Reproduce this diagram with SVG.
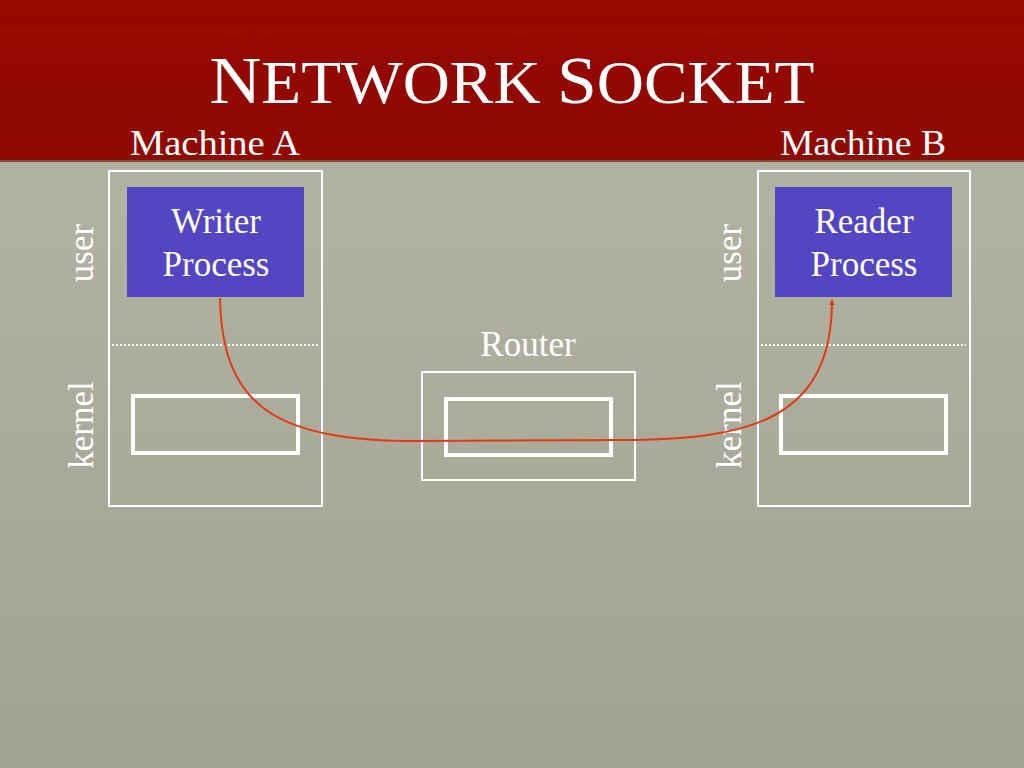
<svg xmlns="http://www.w3.org/2000/svg" width="1024" height="768" viewBox="0 0 1024 768">
<defs>
<linearGradient id="bg" x1="0" y1="0" x2="0" y2="1">
<stop offset="0" stop-color="#b7b7a8"/>
<stop offset="1" stop-color="#a2a293"/>
</linearGradient>
<linearGradient id="hdr" x1="0" y1="0" x2="0" y2="1">
<stop offset="0" stop-color="#960800"/>
<stop offset="1" stop-color="#8f0a02"/>
</linearGradient>
<marker id="arr" viewBox="0 0 10 10" refX="9" refY="5" markerWidth="6" markerHeight="6" orient="auto-start-reverse" markerUnits="userSpaceOnUse">
<path d="M0,0 L10,5 L0,10 z" fill="#e23a14"/>
</marker>
<style>
.t{font-family:"Liberation Serif",serif;fill:#ffffff}
.box{fill:none;stroke:#ffffff;stroke-width:2}
.sock{fill:none;stroke:#ffffff;stroke-width:4}
.proc{fill:#5446c2}
.dot{stroke:#ffffff;stroke-width:2;stroke-dasharray:2 2}
</style>
</defs>
<rect x="0" y="0" width="1024" height="768" fill="url(#bg)"/>
<rect x="0" y="0" width="1024" height="160" fill="url(#hdr)"/>
<rect x="0" y="159" width="1024" height="3" fill="#6e1a10" opacity="0.7"/>
<text class="t" x="512" y="103" text-anchor="middle" font-size="62" textLength="605" lengthAdjust="spacingAndGlyphs"><tspan font-size="68">N</tspan>ETWORK <tspan font-size="68">S</tspan>OCKET</text>
<text class="t" x="215" y="155" text-anchor="middle" font-size="36" textLength="170" lengthAdjust="spacingAndGlyphs">Machine A</text>
<text class="t" x="863" y="155" text-anchor="middle" font-size="36" textLength="166" lengthAdjust="spacingAndGlyphs">Machine B</text>

<g id="machineA">
<rect class="box" x="109" y="171" width="213" height="335"/>
<line class="dot" x1="112" y1="345" x2="318" y2="345"/>
<text class="t" font-size="35" text-anchor="middle" transform="translate(93,253) rotate(-90)">user</text>
<text class="t" font-size="35" text-anchor="middle" transform="translate(93,425) rotate(-90)">kernel</text>
</g>
<g id="writer">
<rect class="proc" x="127" y="187" width="177" height="110"/>
<text class="t" font-size="35" text-anchor="middle" x="216" y="233">Writer</text>
<text class="t" font-size="35" text-anchor="middle" x="216" y="276">Process</text>
</g>
<g id="socketA">
<rect class="sock" x="133" y="396" width="165" height="57"/>
</g>

<g id="router">
<text class="t" font-size="35" text-anchor="middle" x="528" y="356">Router</text>
<rect class="box" x="422" y="372" width="213" height="108"/>
<rect class="sock" x="446" y="399" width="165" height="56"/>
</g>

<g id="machineB">
<rect class="box" x="758" y="171" width="212" height="335"/>
<line class="dot" x1="761" y1="345" x2="966" y2="345"/>
<text class="t" font-size="35" text-anchor="middle" transform="translate(741,253) rotate(-90)">user</text>
<text class="t" font-size="35" text-anchor="middle" transform="translate(741,425) rotate(-90)">kernel</text>
</g>
<g id="reader">
<rect class="proc" x="775" y="187" width="177" height="110"/>
<text class="t" font-size="35" text-anchor="middle" x="864" y="233">Reader</text>
<text class="t" font-size="35" text-anchor="middle" x="864" y="276">Process</text>
</g>
<g id="socketB">
<rect class="sock" x="781" y="396" width="165" height="57"/>
</g>

<g id="connectors">
<path d="M220,298 C222,410 280,441 420,441 L620,440 C750,440 832,420 832,300" fill="none" stroke="#e23a14" stroke-width="2" marker-end="url(#arr)"/>
</g>
</svg>
